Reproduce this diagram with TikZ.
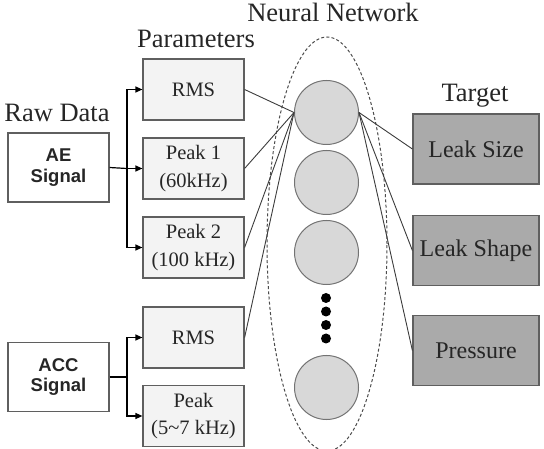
\documentclass[tikz,border=0pt]{standalone}
\usepackage{fontspec}
\setmainfont{Liberation Serif}
\newfontfamily\sigfont{Liberation Sans}
\usetikzlibrary{arrows.meta}
\definecolor{boxline}{RGB}{95,95,95}
\definecolor{parfill}{RGB}{243,243,243}
\definecolor{tgtfill}{RGB}{170,170,170}
\definecolor{nodefill}{RGB}{216,216,216}
\definecolor{conn}{RGB}{60,60,60}
\tikzset{
  heading/.style={anchor=base, font=\fontsize{26.5}{30}\selectfont, text=black!85},
  sigbox/.style={draw=boxline, line width=1.2pt, fill=white, minimum width=101pt, minimum height=69pt, align=center, font=\sigfont\bfseries\fontsize{18.5}{20.5}\selectfont, text=black!85},
  parbox/.style={draw=boxline, line width=1.2pt, fill=parfill, minimum width=101pt, minimum height=61pt, align=center, font=\fontsize{20.5}{27.5}\selectfont, text=black!85},
  tgtbox/.style={draw=boxline, line width=1.2pt, fill=tgtfill, minimum width=126pt, minimum height=70pt, align=center, font=\fontsize{24}{27}\selectfont, text=black!85},
  neuron/.style={circle, draw=black!55, line width=1pt, fill=nodefill, minimum size=64pt, inner sep=0pt},
  dotnode/.style={circle, fill=black, minimum size=10pt, inner sep=0pt},
  feed/.style={draw=black, line width=1.2pt, -{Triangle[length=7pt,width=6pt]}},
  bus/.style={draw=black, line width=1.2pt},
  link/.style={draw=conn, line width=0.9pt},
}
\begin{document}
\begin{tikzpicture}[x=1pt,y=-1pt]
\useasboundingbox (0,0) rectangle (544,449);
% dashed ellipse
\draw[black!70, line width=1pt, dash pattern=on 3pt off 2.2pt] (327,244) ellipse [x radius=60pt, y radius=207pt];
% headings
\node[heading] (hraw) at (57,122) {Raw Data};
\node[heading] (hpar) at (196,48) {Parameters};
\node[heading] (hnn) at (333,22) {Neural Network};
\node[heading] (htgt) at (475,102) {Target};
% signal boxes
\node[sigbox] (ae) at (58.5,167.5) {AE\\Signal};
\node[sigbox] (acc) at (58.5,377) {ACC\\Signal};
% parameter boxes
\node[parbox] (rms1) at (193.5,89.5) {RMS};
\node[parbox] (pk1) at (193.5,168.5) {Peak 1\\(60kHz)};
\node[parbox] (pk2) at (193.5,247.5) {Peak 2\\(100 kHz)};
\node[parbox] (rms2) at (193.5,337.5) {RMS};
\node[parbox] (pk) at (193.5,416) {Peak\\(5\textasciitilde7 kHz)};
% neurons
\node[neuron] (n1) at (326.5,112.5) {};
\node[neuron] (n2) at (326.5,182.5) {};
\node[neuron] (n3) at (326.5,252.5) {};
\node[neuron] (n4) at (326.5,387.5) {};
\node[dotnode] (d1) at (326,298) {};
\node[dotnode] (d2) at (326,311.5) {};
\node[dotnode] (d3) at (326,325) {};
\node[dotnode] (d4) at (326,338.5) {};
% targets
\node[tgtbox] (t1) at (476,149) {Leak Size};
\node[tgtbox] (t2) at (476,250.5) {Leak Shape};
\node[tgtbox] (t3) at (476,350.5) {Pressure};
% feed connectors
\coordinate (b1) at (127,168.5);
\coordinate (b2) at (127,377);
\draw[bus] (ae.east) -- (b1);
\draw[feed] (b1) |- (rms1.west);
\draw[feed] (b1) -- (pk1.west);
\draw[feed] (b1) |- (pk2.west);
\draw[bus] (acc.east) -- (b2);
\draw[feed] (b2) |- (rms2.west);
\draw[feed] (b2) |- (pk.west);
% links to neuron
\draw[link] (rms1.east) -- (n1.west);
\draw[link] (pk1.east) -- (n1.west);
\draw[link] (pk2.east) -- (n1.west);
\draw[link] (rms2.east) -- (n1.west);
\draw[link] (n1.east) -- (t1.west);
\draw[link] (n1.east) -- (t2.west);
\draw[link] (n1.east) -- (t3.west);
\end{tikzpicture}
\end{document}
